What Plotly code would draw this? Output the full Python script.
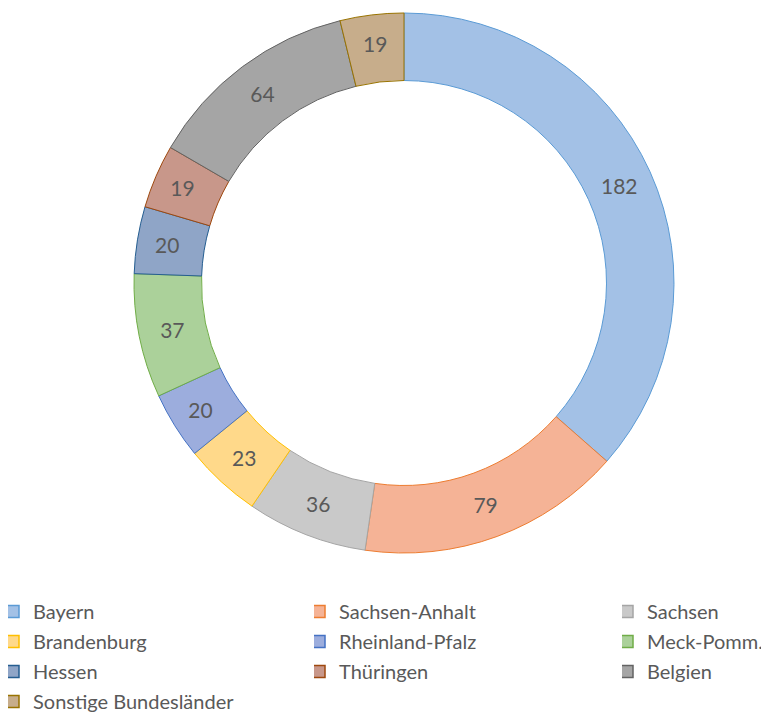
import plotly.graph_objects as go

# Werte (im Uhrzeigersinn ab 12 Uhr)
regionen = ['Bayern', 'Sachsen-Anhalt', 'Sachsen', 'Brandenburg', 'Rheinland-Pfalz',
            'Meck-Pomm.', 'Hessen', 'Thüringen', 'Belgien', 'Sonstige Bundesländer']
anzahl = [182, 79, 36, 23, 20, 37, 20, 19, 64, 19]

fuellung = ['#A3C1E6', '#F5B396', '#C9C9C9', '#FFD98A', '#9CADDD',
            '#ABD19A', '#8FA5C7', '#C8978A', '#A5A5A5', '#C7AD8B']
rand = ['#5B9BD5', '#ED7D31', '#A5A5A5', '#FFC000', '#4472C4',
        '#70AD47', '#255E91', '#9E480E', '#636363', '#997300']

W, H = 769, 713
# die Seite hat 8px Rand (body margin), deshalb alles um 8px verschoben
fig = go.Figure(go.Pie(
    labels=regionen,
    values=anzahl,
    sort=False,
    direction='clockwise',
    rotation=0,
    hole=0.75,
    texttemplate='%{value}',
    textposition='inside',
    insidetextorientation='horizontal',
    textfont=dict(size=21, color='#595959'),
    marker=dict(colors=fuellung, line=dict(color=rand, width=1)),
    domain=dict(x=[126/W, 666/W], y=[1 - 545/H, 1 - 5/H]),
    showlegend=False,
))

# Legende in drei Spalten (zeilenweise wie im Original) -> drei Legenden
spalten = ['legend', 'legend2', 'legend3']
for i, name in enumerate(regionen):
    fig.add_trace(go.Scatter(
        x=[None], y=[None], mode='markers', name=name,
        marker=dict(symbol='square', size=12, color=fuellung[i],
                    line=dict(color=rand[i], width=1.5)),
        legend=spalten[i % 3], legendgroup=name, hoverinfo='skip',
    ))

leg = dict(orientation='v', yanchor='top', y=1 - 584/H,
           font=dict(size=20, color='#595959', family='Lato, sans-serif'),
           tracegroupgap=1, indentation=-15,
           bgcolor='rgba(0,0,0,0)', itemclick=False)

fig.update_layout(
    width=W, height=H,
    margin=dict(l=0, r=0, t=0, b=0, autoexpand=False),
    paper_bgcolor='white', plot_bgcolor='white',
    font=dict(family='Lato, sans-serif', color='#595959'),
    xaxis=dict(visible=False), yaxis=dict(visible=False),
    legend=dict(leg, x=0.0, xanchor='left'),
    legend2=dict(leg, x=306/W, xanchor='left'),
    legend3=dict(leg, x=614/W, xanchor='left'),
)

fig.write_html('out.html')
